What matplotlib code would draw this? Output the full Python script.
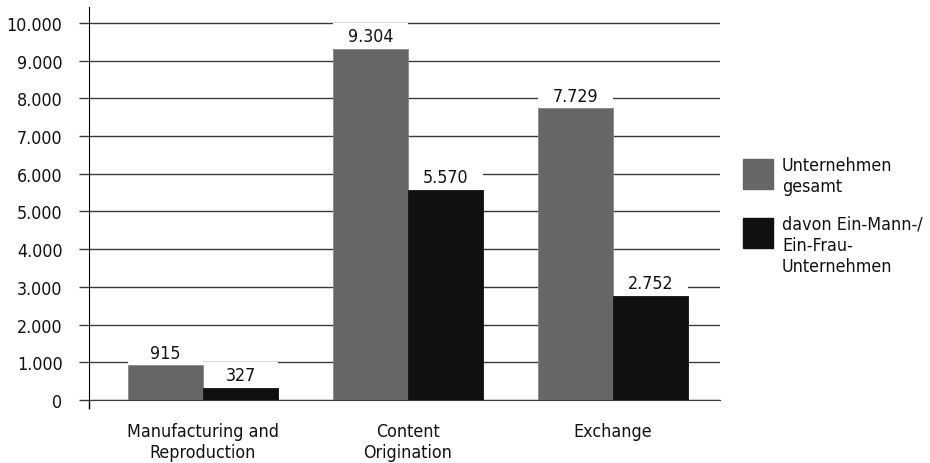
import numpy as np
import matplotlib
matplotlib.use('Agg')
import matplotlib.pyplot as plt
from matplotlib.patches import Rectangle

plt.rcParams['font.family'] = ['DejaVu Sans']
plt.rcParams['font.stretch'] = 'condensed'

# Daten
categories = ['Manufacturing and\nReproduction', 'Content\nOrigination', 'Exchange']
gesamt = [915, 9304, 7729]
ein_person = [327, 5570, 2752]
series_labels = ['Unternehmen\ngesamt', 'davon Ein-Mann-/\nEin-Frau-\nUnternehmen']
yticks = [0, 1000, 2000, 3000, 4000, 5000, 6000, 7000, 8000, 9000, 10000]

COL_GRAY = '#666666'
COL_BLACK = '#101010'
FS = 12.8

def fmt(v):
    return f'{v:,}'.replace(',', '.')

fig = plt.figure(figsize=(9.3, 4.64), dpi=100)
ax = fig.add_axes([89 / 930, 1 - 401 / 464, (720 - 89) / 930, (401 - 8) / 464])

x = np.arange(len(categories))
w = 0.368
box_h = 685  # weisser Hintergrund hinter den Werten

for xs, vals, col in [(x - w / 2, gesamt, COL_GRAY), (x + w / 2, ein_person, COL_BLACK)]:
    ax.bar(xs, vals, width=w, color=col, edgecolor='#888888' if col == COL_GRAY else col,
           linewidth=0.6, zorder=3)
    ax.bar(xs, [box_h] * len(vals), bottom=vals, width=w, color='white', zorder=2.5)
    for xi, v in zip(xs, vals):
        ax.text(xi, v + box_h * 0.5, fmt(v), ha='center', va='center', fontsize=FS,
                color='#111111', zorder=4)

ax.set_xlim(-0.556, 2.522)
ax.set_ylim(0, 10420)
ax.set_yticks(yticks)
ax.set_yticklabels([fmt(t) for t in yticks], fontsize=FS, color='#111111')
ax.yaxis.grid(True, color='#3a3a3a', linewidth=1.0, zorder=1)
ax.set_axisbelow(True)
ax.tick_params(axis='y', length=7, width=1.0, color='#3a3a3a', pad=12)

ax.set_xticks([-0.556])
ax.set_xticklabels([''])
ax.tick_params(axis='x', length=6.5, width=1.0, color='black')
for xi, c in zip(x, categories):
    ax.text(xi, -0.057, c, transform=ax.get_xaxis_transform(), ha='center', va='top',
            fontsize=FS, color='#111111', linespacing=1.2)

for s in ['top', 'right']:
    ax.spines[s].set_visible(False)
ax.spines['left'].set_color('black')
ax.spines['bottom'].set_color('#3a3a3a')

# Legende
for i, (lab, col) in enumerate(zip(series_labels, [COL_GRAY, COL_BLACK])):
    top = 160 + i * 59
    fig.patches.append(Rectangle((743 / 930, 1 - (top + 30) / 464), 30 / 930, 30 / 464,
                                 transform=fig.transFigure, color=col))
    fig.text(782 / 930, 1 - (top - 3) / 464, lab, ha='left', va='top', fontsize=FS,
             color='#111111', linespacing=1.2)

fig.savefig('out.png', dpi=100)
